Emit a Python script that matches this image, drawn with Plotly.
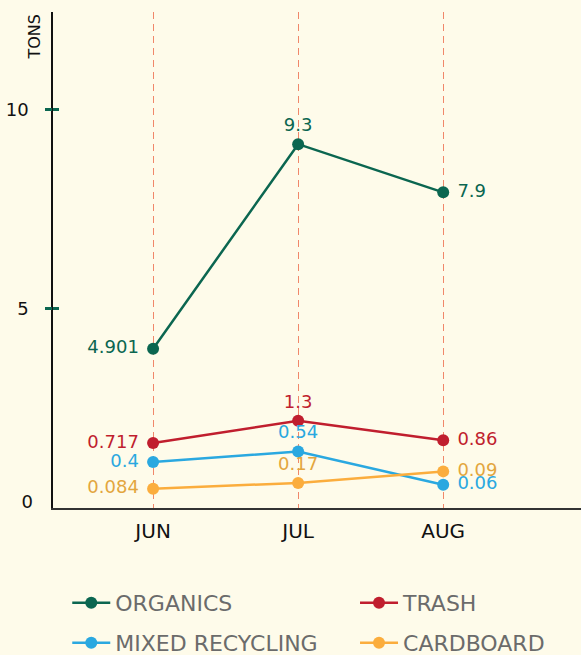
import plotly.graph_objects as go

months = ["JUN", "JUL", "AUG"]

series_names = ["ORGANICS", "TRASH", "MIXED RECYCLING", "CARDBOARD"]

# plotted positions
organics = [4.0, 9.14, 7.93]
trash = [1.63, 2.19, 1.70]
mixed_recycling = [1.155, 1.42, 0.585]
cardboard = [0.485, 0.63, 0.92]

# the printed labels on each point
organics_labels = ["4.901", "9.3", "7.9"]
trash_labels = ["0.717", "1.3", "0.86"]
mixed_recycling_labels = ["0.4", "0.54", "0.06"]
cardboard_labels = ["0.084", "0.17", "0.09"]

y_tick_values = [5, 10]
y_zero = [0]

colors = ["#0b6650", "#c01e2e", "#2aa8e0", "#fbad3d"]
label_colors = ["#0b6650", "#c01e2e", "#2aa8e0", "#e3a63e"]

# one small legend per series, laid out as a 2x2 grid under the chart
legend_ids = ["legend", "legend2", "legend3", "legend4"]
legend_x = [0.027, 0.572, 0.027, 0.572]
legend_y = [-0.1915, -0.1915, -0.2722, -0.2722]

FONT = "DejaVu Sans"
BG = "#fefbea"
NBSP = "\u00a0"

fig = go.Figure()

all_values = [organics, trash, mixed_recycling, cardboard]
all_labels = [organics_labels, trash_labels, mixed_recycling_labels, cardboard_labels]

for name, values, labels, color, label_color, leg in zip(
        series_names, all_values, all_labels, colors, label_colors, legend_ids):
    fig.add_trace(go.Scatter(
        x=months,
        y=values,
        name=name,
        legend=leg,
        mode="lines+markers+text",
        text=labels,
        # a bit more air between the side labels and the dots
        texttemplate=["%{text}" + NBSP, "%{text}", NBSP + "%{text}"],
        textposition=["middle left", "top center", "middle right"],
        textfont=dict(family=FONT, size=18, color=label_color),
        line=dict(color=color, width=2.5),
        marker=dict(color=color, size=12),
        hoverinfo="x+y+name",
        cliponaxis=False,
    ))

legends = {}
for leg, lx, ly in zip(legend_ids, legend_x, legend_y):
    legends[leg] = dict(
        orientation="h",
        x=lx,
        y=ly,
        xanchor="left",
        yanchor="middle",
        itemwidth=38,
        font=dict(family=FONT, size=22, color="#6b6b6b"),
        bgcolor="rgba(0,0,0,0)",
    )

tick_axis = dict(
    overlaying="y",
    matches="y",
    tickvals=y_tick_values,
    tickwidth=2.5,
    tickcolor="#0b6650",
    showticklabels=False,
    showgrid=False,
    zeroline=False,
    showline=False,
)

fig.update_layout(
    width=581,
    height=655,
    margin=dict(l=53, r=0, t=12, b=147, autoexpand=False),
    paper_bgcolor=BG,
    plot_bgcolor=BG,
    font=dict(family=FONT, size=18, color="#111111"),
    showlegend=True,
    **legends,
    xaxis=dict(
        range=[-0.69, 2.95],
        showgrid=True,
        gridcolor="#f0876a",
        griddash="7px,5px",
        gridwidth=1.2,
        showline=True,
        linecolor="#333333",
        linewidth=1.5,
        zeroline=False,
        ticks="",
        ticklabelstandoff=4,
        tickfont=dict(family=FONT, size=20, color="#111111"),
    ),
    yaxis=dict(
        range=[0, 12.46],
        tickvals=y_tick_values,
        showgrid=False,
        zeroline=False,
        showline=True,
        linecolor="#111111",
        linewidth=1.5,
        ticks="",
        ticklabelstandoff=19,
        tickfont=dict(family=FONT, size=18, color="#111111"),
    ),
    # green ticks that cross the axis line: one half outside, one half inside
    yaxis2=dict(tick_axis, ticks="outside", ticklen=7),
    yaxis3=dict(tick_axis, ticks="inside", ticklen=6),
    # the "0" label sits a little above the x axis
    yaxis4=dict(
        overlaying="y",
        matches="y",
        tickvals=y_zero,
        ticks="",
        ticklabelstandoff=19,
        ticklabelshift=-6,
        tickfont=dict(family=FONT, size=18, color="#111111"),
        showgrid=False,
        zeroline=False,
        showline=False,
    ),
    annotations=[dict(
        text="TONS",
        textangle=-90,
        xref="paper", yref="paper",
        x=-0.015, y=1.0,
        xanchor="right", yanchor="top",
        showarrow=False,
        font=dict(family=FONT, size=16, color="#111111"),
    )],
)

# invisible traces so the extra tick axes are drawn
for axis_name in ["y2", "y3", "y4"]:
    fig.add_trace(go.Scatter(x=months, y=organics, yaxis=axis_name, showlegend=False,
                             hoverinfo="skip", mode="markers", marker=dict(opacity=0)))

# drop the browser's default 8px page margin so the chart sits flush
fig.write_html("out.html", config={"displayModeBar": False},
               post_script="document.body.style.margin='0';")
